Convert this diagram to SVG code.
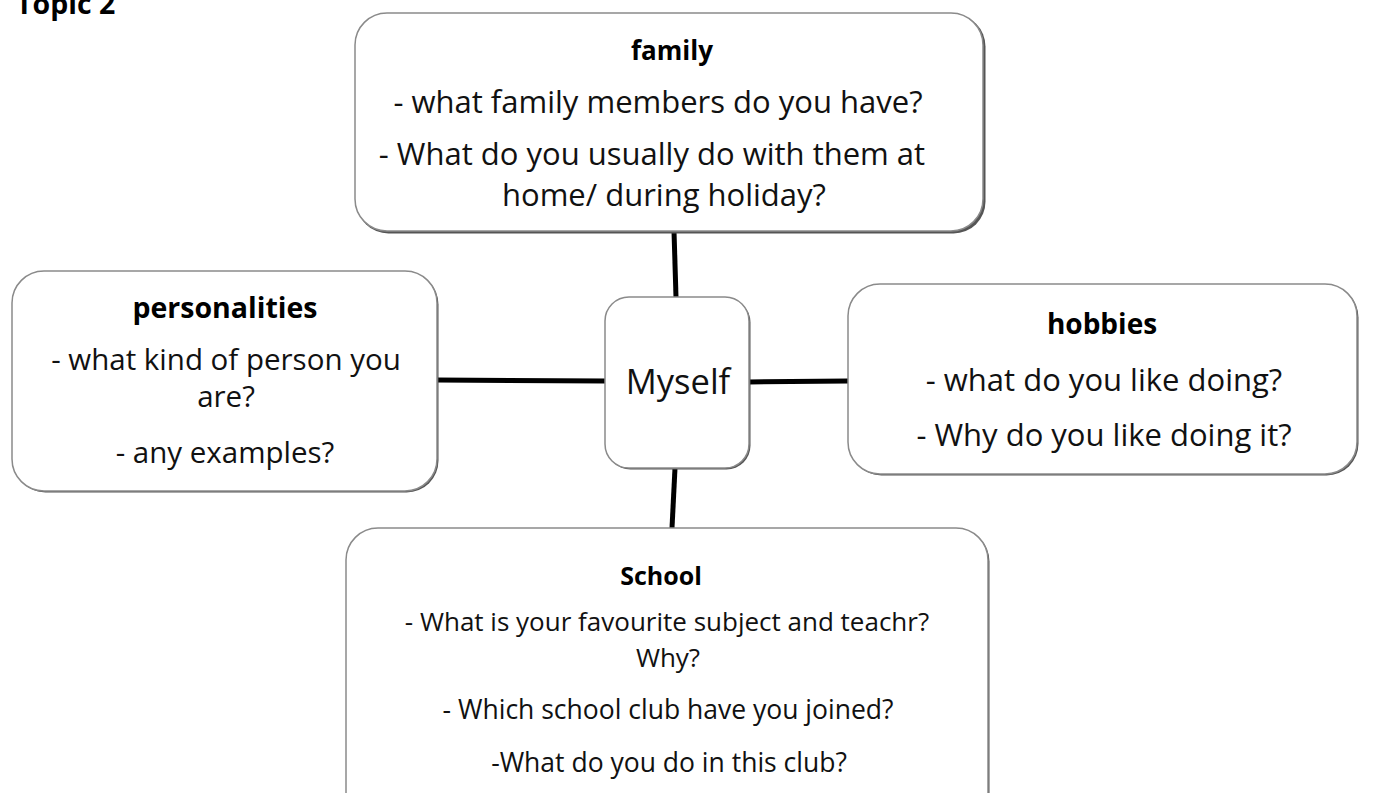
<svg xmlns="http://www.w3.org/2000/svg" width="1395" height="793" viewBox="0 0 1395 793">
<style>
.box{fill:#fff;stroke:#8a8a8a;stroke-width:1.5}
.sh{fill:#555}
.t{font-family:"Open Sans","Liberation Sans",sans-serif;fill:#111;text-anchor:middle}
.h{font-weight:bold;fill:#000}
.c{stroke:#000;stroke-width:5;fill:none}
</style>
<rect width="1395" height="793" fill="#fff"/>
<text x="16" y="14" class="t h" style="text-anchor:start" font-size="28.5">Topic 2</text>
<g id="connectors">
<line class="c" x1="674" y1="231" x2="676" y2="297"/>
<line class="c" x1="437" y1="380" x2="605" y2="381"/>
<line class="c" x1="749" y1="382" x2="848" y2="381"/>
<line class="c" x1="675" y1="468" x2="672" y2="528"/>
</g>
<g id="family">
<rect class="sh" x="356.5" y="14.5" width="629" height="219" rx="32"/>
<rect class="box" x="355" y="13" width="628" height="218" rx="32"/>
<text class="t h" x="672" y="60" font-size="26">family</text>
<text class="t" x="658" y="113" font-size="31">- what family members do you have?</text>
<text class="t" x="652" y="165" font-size="31">- What do you usually do with them at</text>
<text class="t" x="664" y="206" font-size="31">home/ during holiday?</text>
</g>
<g id="personalities">
<rect class="sh" x="13.5" y="272.5" width="425" height="220" rx="32"/>
<rect class="box" x="12" y="271" width="425" height="220" rx="32"/>
<text class="t h" x="225" y="318" font-size="28.5">personalities</text>
<text class="t" x="226" y="370" font-size="29.5">- what kind of person you</text>
<text class="t" x="226" y="407" font-size="29.5">are?</text>
<text class="t" x="225" y="463" font-size="29.5">- any examples?</text>
</g>
<g id="myself">
<rect class="sh" x="606.5" y="298.5" width="144" height="171" rx="24"/>
<rect class="box" x="605" y="297" width="144" height="171" rx="24"/>
<text class="t" x="678" y="394" font-size="34.5">Myself</text>
</g>
<g id="hobbies">
<rect class="sh" x="849.5" y="285.5" width="509" height="190" rx="32"/>
<rect class="box" x="848" y="284" width="509" height="190" rx="32"/>
<text class="t h" x="1102" y="334" font-size="28">hobbies</text>
<text class="t" x="1104" y="391" font-size="31">- what do you like doing?</text>
<text class="t" x="1104" y="446" font-size="31">- Why do you like doing it?</text>
</g>
<g id="school">
<rect class="sh" x="347.5" y="529.5" width="642" height="300" rx="32"/>
<rect class="box" x="346" y="528" width="642" height="300" rx="32"/>
<text class="t h" x="661" y="585" font-size="25">School</text>
<text class="t" x="667" y="631" font-size="26">- What is your favourite subject and teachr?</text>
<text class="t" x="668" y="667" font-size="26">Why?</text>
<text class="t" x="668" y="719" font-size="26.5">- Which school club have you joined?</text>
<text class="t" x="669" y="772" font-size="26.5">-What do you do in this club?</text>
</g>
</svg>
